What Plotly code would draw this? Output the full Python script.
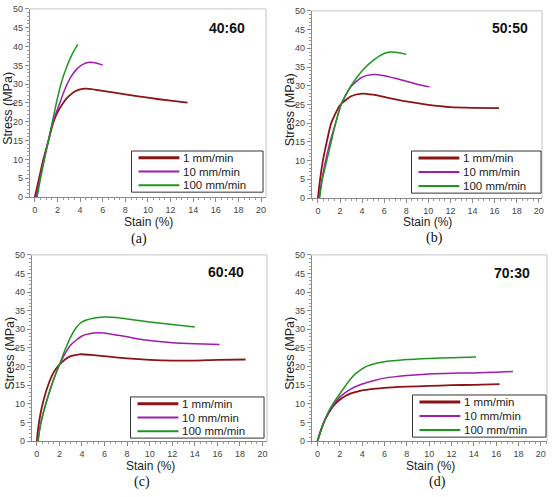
import plotly.graph_objects as go

# ---------------- data ----------------
rates = ["1 mm/min", "10 mm/min", "100 mm/min"]
panel_titles = ["40:60", "50:50", "60:40", "70:30"]
panel_letters = ["(a)", "(b)", "(c)", "(d)"]
x_ticks = [0, 2, 4, 6, 8, 10, 12, 14, 16, 18, 20]
y_ticks = [0, 5, 10, 15, 20, 25, 30, 35, 40, 45, 50]

# Panel (a) 40:60
a_1_x = [0, 0.3, 0.75, 1.2, 1.65, 2.0, 2.5, 3, 3.5, 4, 4.5, 5, 6, 8, 10, 12, 13.5]
a_1_y = [0, 4, 10, 15, 20, 22.5, 25, 26.8, 28, 28.6, 28.8, 28.7, 28.2, 27.3, 26.4, 25.6, 25.1]
a_10_x = [0.1, 0.4, 0.8, 1.2, 1.6, 2.2, 2.7, 3.2, 3.7, 4.2, 4.8, 5.3, 6.0]
a_10_y = [0, 4, 10, 15, 20, 25, 29, 32, 34, 35.2, 35.8, 35.7, 35.1]
a_100_x = [0.2, 0.5, 0.85, 1.2, 1.55, 1.9, 2.3, 2.8, 3.3, 3.8]
a_100_y = [0, 5, 10, 15, 20, 25, 30, 34.5, 38, 40.6]

# Panel (b) 50:50
b_1_x = [0, 0.15, 0.45, 0.8, 1.2, 2, 3, 4, 5, 6, 8, 10, 12, 14, 16.4]
b_1_y = [0, 4, 10, 15, 20, 24.8, 27.2, 27.9, 27.6, 27, 25.8, 24.9, 24.3, 24.1, 24.0]
b_10_x = [0.1, 0.3, 0.7, 1.1, 1.6, 2.1, 3, 4, 5, 6, 7, 8, 9, 10.1]
b_10_y = [0, 4, 10, 15, 20, 25, 29.8, 32.3, 33, 32.7, 32, 31.2, 30.4, 29.7]
b_100_x = [0.15, 0.4, 0.8, 1.2, 1.6, 2.1, 3, 4, 5, 6, 6.6, 7.2, 8]
b_100_y = [0, 5, 10, 15, 20, 25, 30, 34, 36.8, 38.6, 39, 38.9, 38.4]

# Panel (c) 60:40
c_1_x = [0, 0.1, 0.3, 0.6, 1, 1.5, 2, 2.5, 3, 3.8, 5, 6, 8, 10, 12, 14, 16, 18.5]
c_1_y = [0, 3, 7, 11, 15, 18.5, 20.5, 21.9, 22.8, 23.3, 23.1, 22.8, 22.2, 21.8, 21.6, 21.6, 21.8, 21.9]
c_10_x = [0.1, 0.3, 0.7, 1.2, 1.6, 2, 2.5, 3, 4, 5, 5.5, 6, 7, 8, 9, 10, 12, 14, 16.2]
c_10_y = [0, 4, 9, 14, 17.5, 20.5, 23.5, 25.8, 28.2, 29, 29.1, 29, 28.5, 28, 27.4, 27, 26.4, 26.1, 25.9]
c_100_x = [0.1, 0.3, 0.7, 1.2, 1.6, 2, 2.5, 3, 3.5, 4, 5, 6, 7, 8, 10, 12, 14]
c_100_y = [0, 4, 9, 14, 17.5, 20.5, 24.5, 28, 30.5, 32, 33, 33.3, 33.2, 32.8, 32, 31.3, 30.6]

# Panel (d) 70:30
d_1_x = [0, 0.5, 1, 1.5, 2, 2.5, 3, 4, 5, 6, 8, 10, 12, 14, 16.3]
d_1_y = [0, 4.5, 7.5, 9.7, 11.1, 12.1, 12.8, 13.6, 14, 14.3, 14.6, 14.8, 15, 15.1, 15.3]
d_10_x = [0, 0.5, 1, 1.5, 2, 2.5, 3, 4, 5, 6, 7, 8, 10, 12, 14, 16, 17.5]
d_10_y = [0, 4.5, 7.7, 10, 11.8, 13, 14, 15.3, 16.2, 16.9, 17.3, 17.6, 18, 18.2, 18.3, 18.5, 18.7]
d_100_x = [0, 0.5, 1, 1.5, 2, 2.5, 3, 3.5, 4, 4.5, 5, 6, 7, 8, 10, 12, 14.2]
d_100_y = [0, 4.5, 8, 10.5, 12.7, 14.8, 16.8, 18.3, 19.4, 20.2, 20.7, 21.3, 21.6, 21.9, 22.2, 22.4, 22.6]

series = [
    [(a_1_x, a_1_y), (a_10_x, a_10_y), (a_100_x, a_100_y)],
    [(b_1_x, b_1_y), (b_10_x, b_10_y), (b_100_x, b_100_y)],
    [(c_1_x, c_1_y), (c_10_x, c_10_y), (c_100_x, c_100_y)],
    [(d_1_x, d_1_y), (d_10_x, d_10_y), (d_100_x, d_100_y)],
]

# ---------------- layout geometry ----------------
W, H = 553, 497
colors = ["#8B1414", "#A01AB0", "#1E961E"]
widths = [1.8, 1.5, 1.5]
legend_widths = [3, 2, 2]
FONT = "Liberation Sans, Arial, sans-serif"

# plot areas in pixels: (left, right, top, bottom), x ranges
boxes = [
    (30, 267, 4, 196),
    (313, 544, 6, 197),
    (32, 268, 255, 445),
    (313, 549, 255, 445),
]
xranges = [[-0.44, 20.44], [-0.55, 20.3], [-0.44, 20.4], [-0.5, 20.55]]
legend_box = [(132, 264, 149, 191), (413, 543, 149, 192), (131, 265, 400, 442), (414, 548, 398, 441)]
title_pos = [(228, 23), (512, 23), (227, 272), (514, 273)]
xtitle_y = [221, 221, 470, 470]
letter_pos = [(140, 239), (436, 238), (143, 487), (439, 487)]


def px(x):
    return x / W


def py(y):
    return 1 - y / H


fig = go.Figure()
layout = dict(
    width=W, height=H,
    margin=dict(l=0, r=0, t=0, b=0),
    paper_bgcolor="white", plot_bgcolor="white",
    font=dict(family=FONT, color="#222"),
    showlegend=False,
    annotations=[], shapes=[],
)

for i in range(4):
    sfx = "" if i == 0 else str(i + 1)
    xa, ya = "x" + sfx, "y" + sfx
    for k in range(3):
        xs, ys = series[i][k]
        fig.add_trace(go.Scatter(
            x=xs, y=ys, mode="lines", name=rates[k],
            line=dict(color=colors[k], width=widths[k], shape="spline", smoothing=0.6),
            xaxis=xa, yaxis=ya,
        ))
    l, r, t, b = boxes[i]
    axis_common = dict(
        showgrid=False, zeroline=False, showline=True, linecolor="#8a8a8a", linewidth=1,
        ticks="outside", ticklen=4, tickcolor="#8a8a8a",
        tickfont=dict(size=9, color="#444", family=FONT),
    )
    layout["xaxis" + sfx] = dict(
        domain=[px(l), px(r)], range=xranges[i], anchor=ya,
        tickmode="array", tickvals=x_ticks,
        minor=dict(ticks="outside", ticklen=2, dtick=0.5, tickcolor="#9a9a9a"),
        **axis_common,
    )
    layout["yaxis" + sfx] = dict(
        domain=[py(b), py(t)], range=[0, 50], anchor=xa,
        tickmode="array", tickvals=y_ticks,
        minor=dict(ticks="outside", ticklen=2, dtick=1, tickcolor="#9a9a9a"),
        **axis_common,
    )
    # light frame top and right
    layout["shapes"].append(dict(type="line", xref="paper", yref="paper",
                                 x0=px(l), x1=px(r), y0=py(t), y1=py(t),
                                 line=dict(color="#c4c4c4", width=1)))
    layout["shapes"].append(dict(type="line", xref="paper", yref="paper",
                                 x0=px(r), x1=px(r), y0=py(t), y1=py(b),
                                 line=dict(color="#c4c4c4", width=1)))
    # legend box (drawn)
    bl, br, bt, bb = legend_box[i]
    layout["shapes"].append(dict(type="rect", xref="paper", yref="paper",
                                 x0=px(bl), x1=px(br), y0=py(bb), y1=py(bt),
                                 fillcolor="white", line=dict(color="#333", width=1)))
    row_h = (bb - bt) / 3.0
    for k in range(3):
        yy = bt + row_h * (k + 0.5)
        layout["shapes"].append(dict(type="line", xref="paper", yref="paper",
                                     x0=px(bl + 7), x1=px(bl + 48), y0=py(yy), y1=py(yy),
                                     line=dict(color=colors[k], width=legend_widths[k])))
        layout["annotations"].append(dict(
            text=rates[k], x=px(bl + 50), y=py(yy), xref="paper", yref="paper",
            showarrow=False, xanchor="left", yanchor="middle",
            font=dict(size=11.5, color="#222", family=FONT),
        ))
    # panel title
    tx, ty = title_pos[i]
    layout["annotations"].append(dict(
        text="<b>" + panel_titles[i] + "</b>", x=px(tx), y=py(ty), xref="paper", yref="paper",
        showarrow=False, xanchor="center", yanchor="middle",
        font=dict(size=14, color="#111", family=FONT),
    ))
    # axis titles
    layout["annotations"].append(dict(
        text="Stain (%)", x=px((l + r) / 2 + 1), y=py(xtitle_y[i]), xref="paper", yref="paper",
        showarrow=False, xanchor="center", yanchor="middle",
        font=dict(size=12, color="#222", family=FONT),
    ))
    layout["annotations"].append(dict(
        text="Stress (MPa)", x=px(l - 22), y=py((t + b) / 2 + 5), xref="paper", yref="paper",
        showarrow=False, xanchor="center", yanchor="middle", textangle=-90,
        font=dict(size=12.5, color="#222", family=FONT),
    ))
    # panel letter
    cx, cy = letter_pos[i]
    layout["annotations"].append(dict(
        text=panel_letters[i], x=px(cx), y=py(cy), xref="paper", yref="paper",
        showarrow=False, xanchor="center", yanchor="middle",
        font=dict(size=14, color="#111", family="Liberation Serif, DejaVu Serif, serif"),
    ))

fig.update_layout(**layout)
fig.write_html("out.html", config={"displayModeBar": False},
               post_script="document.body.style.margin='0';")
